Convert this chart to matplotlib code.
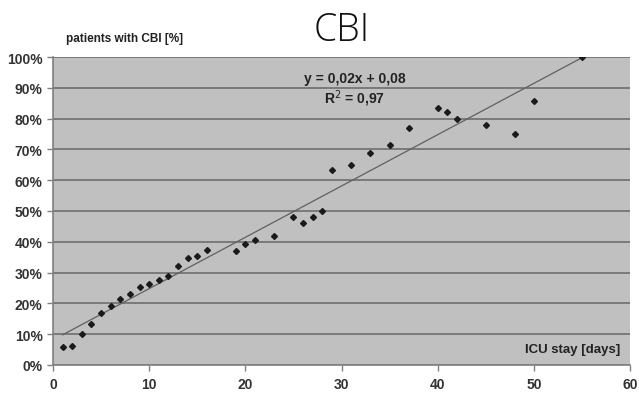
import matplotlib.pyplot as plt
import numpy as np
from matplotlib.ticker import FuncFormatter

# ICU stay (days) and share of patients with CBI (%)
days = [1, 2, 3, 4, 5, 6, 7, 8, 9, 10, 11, 12, 13, 14, 15, 16,
        19, 20, 21, 23, 25, 26, 27, 28, 29, 31, 33, 35, 37,
        40, 41, 42, 45, 48, 50, 55]
cbi_pct = [6.0, 6.3, 10.0, 13.2, 17.0, 19.0, 21.3, 23.0, 25.4, 26.2, 27.6, 29.0,
           32.0, 34.8, 35.5, 37.5, 37.0, 39.3, 40.5, 41.8, 48.2, 46.2, 48.0, 50.0,
           63.2, 64.8, 68.7, 71.5, 77.0, 83.5, 82.0, 80.0, 77.8, 75.0, 85.7, 100.0]

x_ticks = [0, 10, 20, 30, 40, 50, 60]
y_ticks = [0, 10, 20, 30, 40, 50, 60, 70, 80, 90, 100]

plt.rcParams['font.family'] = ['Liberation Sans', 'DejaVu Sans']

fig = plt.figure(figsize=(6.39, 4.06), dpi=100)
ax = fig.add_axes([53 / 639, 1 - 366 / 406, (630 - 53) / 639, (366 - 58) / 406])
ax.set_facecolor('#c0c0c0')

ax.set_xlim(0, 60)
ax.set_ylim(0, 100)
ax.set_xticks(x_ticks)
ax.set_yticks(y_ticks)
ax.yaxis.set_major_formatter(FuncFormatter(lambda v, p: f'{v:.0f}%'))
ax.tick_params(colors='#808080', labelcolor='#222222', labelsize=10, length=4, width=1)
ax.tick_params(axis='x', pad=5)
for lab in ax.get_xticklabels() + ax.get_yticklabels():
    lab.set_fontweight('bold')
    lab.set_color('#333333')

for s in ['top', 'right']:
    ax.spines[s].set_visible(False)
for s in ['left', 'bottom']:
    ax.spines[s].set_color('#808080')
    ax.spines[s].set_linewidth(1.2)

ax.grid(axis='y', color='#6e6e6e', linewidth=1.2)
ax.set_axisbelow(True)

# linear trend line
xs = np.array(days, dtype=float)
ys = np.array(cbi_pct)
k, b = np.polyfit(xs, ys, 1)
xl = np.array([xs.min(), xs.max()])
ax.plot(xl, k * xl + b, color='#606060', linewidth=0.9)

ax.plot(days, cbi_pct, linestyle='none', marker='D', markersize=3.0, color='#1a1a1a')

ax.text(31.4, 93.2, 'y = 0,02x + 0,08', fontsize=10, fontweight='bold', ha='center', va='center', color='#222222')
ax.text(31.4, 86.7, 'R$^2$ = 0,97', fontsize=10, fontweight='bold', ha='center', va='center', color='#222222')
ax.text(59, 5.2, 'ICU stay [days]', fontsize=9.5, fontweight='bold', ha='right', va='center', color='#222222')

fig.text(66 / 639, 1 - 39 / 406, 'patients with CBI [%]', fontsize=8.5, fontweight='bold', ha='left', va='center', color='#222222')
fig.text(342 / 639, 1 - 31 / 406, 'CBI', fontsize=27, fontweight='light', ha='center', va='center',
         color='#111111', family=['Open Sans', 'DejaVu Sans'])

fig.savefig('out.png', dpi=100)
